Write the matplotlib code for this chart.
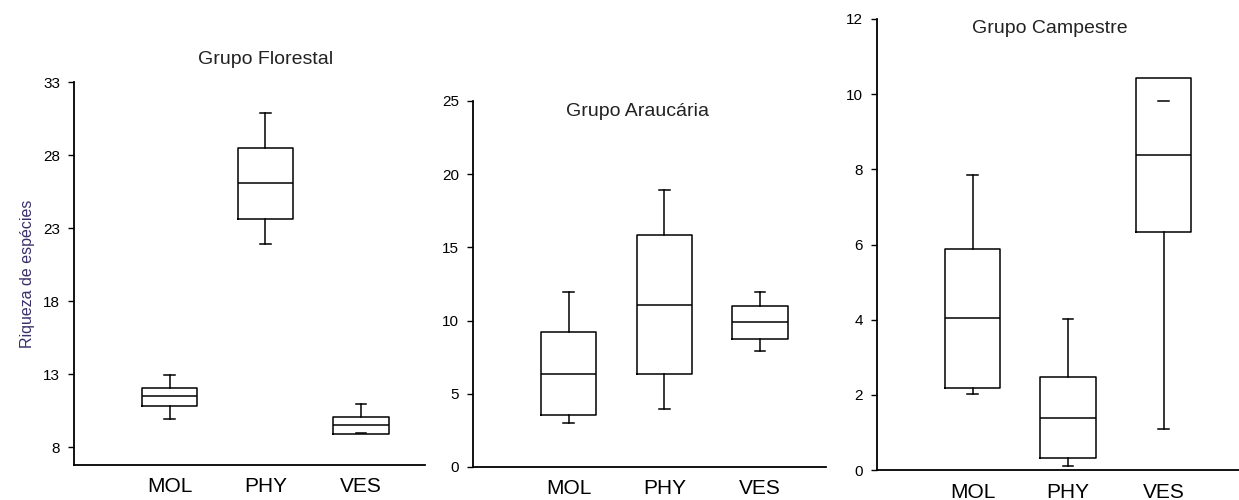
import matplotlib
matplotlib.use('Agg')
import matplotlib.pyplot as plt

plt.rcParams['font.family'] = ['Liberation Sans', 'DejaVu Sans']

groups = ['MOL', 'PHY', 'VES']

# Grupo Florestal
flo_whislo = [9.9, 21.9, 8.96]
flo_q1 = [10.83, 23.64, 8.87]
flo_med = [11.5, 26.06, 9.53]
flo_q3 = [12.04, 28.5, 10.08]
flo_whishi = [12.91, 30.85, 10.95]
flo_ticks = [8, 13, 18, 23, 28, 33]

# Grupo Araucaria
ara_whislo = [2.98, 3.98, 7.9]
ara_q1 = [3.53, 6.33, 8.77]
ara_med = [6.33, 11.09, 9.88]
ara_q3 = [9.22, 15.82, 10.97]
ara_whishi = [11.93, 18.92, 11.93]
ara_ticks = [0, 5, 10, 15, 20, 25]

# Grupo Campestre
cam_whislo = [2.03, 0.11, 1.09]
cam_q1 = [2.18, 0.33, 6.33]
cam_med = [4.04, 1.39, 8.37]
cam_q3 = [5.89, 2.47, 10.44]
cam_whishi = [7.86, 4.01, 9.82]
cam_ticks = [0, 2, 4, 6, 8, 10, 12]

W, H = 1239, 500
fig = plt.figure(figsize=(W / 100, H / 100), dpi=100)


def make_stats(lo, q1, med, q3, hi):
    return [dict(whislo=a, q1=b, med=c, q3=d, whishi=e, fliers=[])
            for a, b, c, d, e in zip(lo, q1, med, q3, hi)]


def panel(px, title, stats, ticks, ylim, xmax, title_xy):
    l, r, t, b = px
    ax = fig.add_axes([l / W, 1 - b / H, (r - l) / W, (b - t) / H])
    lp = dict(color='black', linewidth=1.1)
    art = ax.bxp(stats, positions=[1, 2, 3], widths=0.58, showfliers=False,
                 boxprops=lp, whiskerprops=lp, capprops=lp,
                 medianprops=lp, capwidths=0.11)
    # whiskers that end inside the box only show their cap
    for i, st in enumerate(stats):
        if st['whislo'] > st['q1']:
            art['whiskers'][2 * i].set_visible(False)
        if st['whishi'] < st['q3']:
            art['whiskers'][2 * i + 1].set_visible(False)
    ax.set_xlim(0, xmax)
    ax.set_ylim(*ylim)
    ax.set_yticks(ticks)
    ax.set_xticks([1, 2, 3])
    ax.set_xticklabels(groups, fontsize=15)
    ax.tick_params(axis='x', length=0, pad=9)
    ax.tick_params(axis='y', length=4, width=1, labelsize=11, pad=6)
    for s in ['top', 'right']:
        ax.spines[s].set_visible(False)
    for s in ['left', 'bottom']:
        ax.spines[s].set_linewidth(1.3)
    ax.spines['left'].set_bounds(ylim[0], ticks[-1])
    ax.text(title_xy[0], title_xy[1], title, transform=ax.transAxes, ha='center',
            va='center', fontsize=14, color='#222222')
    return ax


ax1 = panel((74, 425, 82, 465), 'Grupo Florestal',
            make_stats(flo_whislo, flo_q1, flo_med, flo_q3, flo_whishi),
            flo_ticks, (6.77, 33), 3.67, (0.547, 1.06))
ax1.set_ylabel('Riqueza de espécies', fontsize=11.5, color='#3b2f6b', labelpad=6)

ax2 = panel((473, 826, 101, 467), 'Grupo Araucária',
            make_stats(ara_whislo, ara_q1, ara_med, ara_q3, ara_whishi),
            ara_ticks, (0, 25), 3.69, (0.465, 0.97))

ax3 = panel((877, 1239, 19, 470), 'Grupo Campestre',
            make_stats(cam_whislo, cam_q1, cam_med, cam_q3, cam_whishi),
            cam_ticks, (0, 12), 3.79, (0.478, 0.98))

fig.savefig('out.png', dpi=100)
